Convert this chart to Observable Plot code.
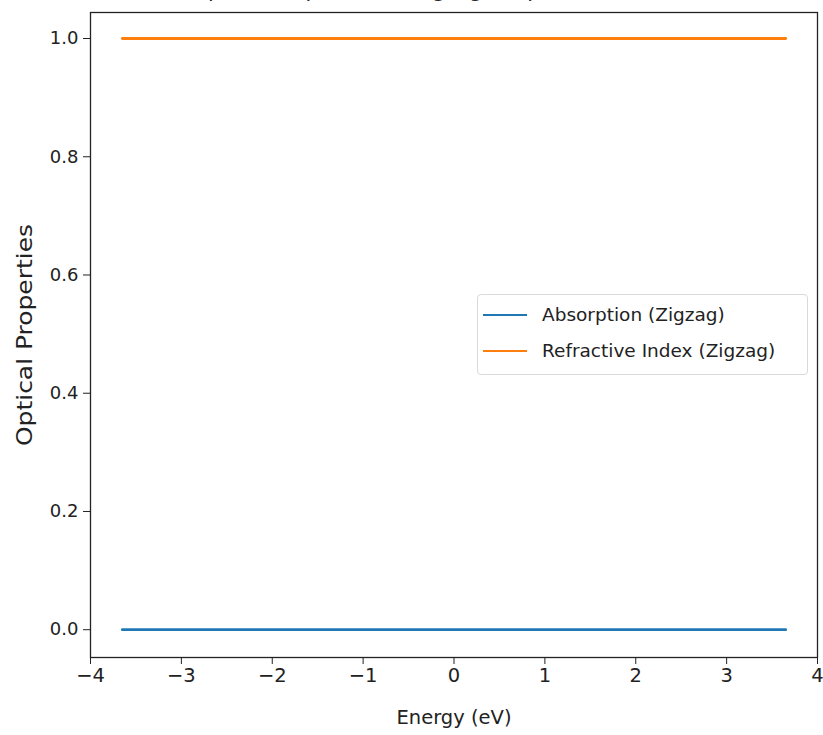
<!DOCTYPE html>
<html>
<head>
<meta charset="utf-8">
<script src="https://cdn.jsdelivr.net/npm/d3@7"></script>
<script src="https://cdn.jsdelivr.net/npm/@observablehq/plot@0.6"></script>
<style>
  html, body { margin: 0; padding: 0; background: #fff; overflow: hidden; }
  #wrap { position: relative; width: 823px; height: 735px; }
  #title { position: absolute; top: -22px; left: 0; width: 823px; text-align: center; padding-left: 90px; box-sizing: border-box;
           font: 21px "DejaVu Sans", sans-serif; color: #222; line-height: 24px; }
  #legend { position: absolute; left: 477px; top: 294px; width: 331px; height: 81px;
            border: 1px solid #d9d9d9; border-radius: 4px; background: rgba(255,255,255,0.85);
            font: 18.5px "DejaVu Sans", sans-serif; color: #222; box-sizing: border-box; }
  .row { position: absolute; left: 5px; display: flex; align-items: center; line-height: 22px; }
  .sw { width: 44px; height: 0; border-top: 2.8px solid; margin-right: 15px; }
</style>
</head>
<body>
<div id="wrap">
  <div id="title">Optical Properties of Zigzag Graphene Nanoribbon</div>
  <div id="chart"></div>
  <div id="legend"></div>
</div>
<script>
const energy = [-3.65, 3.65];
const absorption = [0, 0];
const refractive = [1, 1];
const seriesNames = ["Absorption (Zigzag)", "Refractive Index (Zigzag)"];
const seriesColors = ["#1f77b4", "#ff7f0e"];
const xTicks = [-4, -3, -2, -1, 0, 1, 2, 3, 4];
const yTicks = [0.0, 0.2, 0.4, 0.6, 0.8, 1.0];
const xLabel = "Energy (eV)";
const yLabel = "Optical Properties";

const data = [];
energy.forEach((e, i) => data.push({energy: e, value: absorption[i], series: seriesNames[0]}));
energy.forEach((e, i) => data.push({energy: e, value: refractive[i], series: seriesNames[1]}));

const fam = '"DejaVu Sans", sans-serif';
const chart = Plot.plot({
  width: 823,
  height: 735,
  marginLeft: 90,
  marginRight: 6,
  marginTop: 12,
  marginBottom: 78,
  style: {fontFamily: fam, fontSize: "18px", color: "#222", background: "#fff"},
  x: {domain: [-4.0, 4.0]},
  y: {domain: [-0.047, 1.044]},
  color: {domain: seriesNames, range: seriesColors},
  marks: [
    Plot.frame({stroke: "#222", strokeWidth: 1.3}),
    Plot.axisX({ticks: xTicks, tickSize: 7, tickPadding: 4,
      label: xLabel, labelAnchor: "center", labelArrow: "none", labelOffset: 66, fontSize: 19.5}),
    Plot.axisY({ticks: yTicks, tickFormat: d3.format(".1f"), tickSize: 7, tickPadding: 5, fontSize: 18, label: null}),
    Plot.text([yLabel], {frameAnchor: "left", text: d => d, rotate: -90, dx: -65, fontSize: 20.5,
      textAnchor: "middle", fill: "#222", className: "ylab"}),
    Plot.line(data, {x: "energy", y: "value", z: "series", stroke: "series", strokeWidth: 2.8})
  ]
});
document.getElementById("chart").appendChild(chart);
d3.select(chart).selectAll(".ylab text").attr("textLength", 222).attr("lengthAdjust", "spacingAndGlyphs");

const leg = document.getElementById("legend");
seriesNames.forEach((n, i) => {
  const r = document.createElement("div");
  r.className = "row";
  r.style.top = (9 + i * 36) + "px";
  r.innerHTML = `<span class="sw" style="border-color:${seriesColors[i]}"></span><span>${n}</span>`;
  leg.appendChild(r);
});
</script>
</body>
</html>
